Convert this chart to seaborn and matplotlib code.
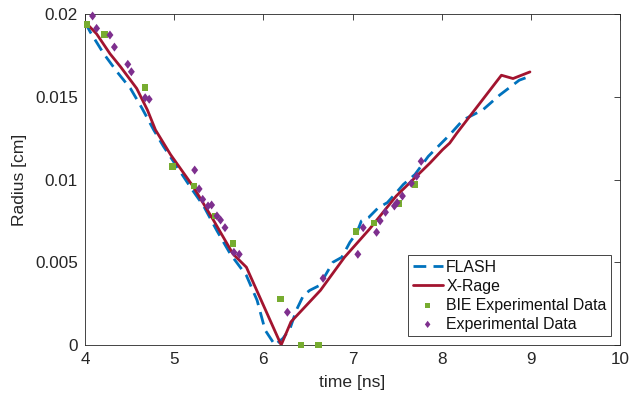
import matplotlib
matplotlib.use("Agg")
import matplotlib.pyplot as plt
import seaborn as sns
import numpy as np
from matplotlib.path import Path

# ---------------- data ----------------
flash_t = [4.0, 4.06, 4.21, 4.36, 4.51, 4.64, 4.77, 4.88, 5.20, 5.33, 5.48, 5.63,
           5.81, 5.93, 6.02, 6.13, 6.22, 6.30, 6.37, 6.45, 6.52, 6.63, 6.78, 6.88,
           6.97, 7.05, 7.10, 7.18, 7.29, 7.39, 7.49, 7.57, 7.70, 7.85, 8.09, 8.24,
           8.46, 8.65, 8.87, 8.97]
flash_r = [0.0195, 0.0189, 0.0176, 0.0165, 0.0155, 0.0143, 0.0130, 0.0120, 0.0094,
           0.0084, 0.0069, 0.0055, 0.0042, 0.0027, 0.0009, 0.0, 0.0004, 0.0010,
           0.0021, 0.0030, 0.0033, 0.0036, 0.0050, 0.0053, 0.0062, 0.0068, 0.0075,
           0.0077, 0.0083, 0.0086, 0.0092, 0.0097, 0.0103, 0.0114, 0.0127, 0.0136,
           0.0142, 0.0151, 0.0160, 0.0162]

xrage_t = [4.0, 4.04, 4.13, 4.28, 4.40, 4.58, 4.70, 4.79, 4.96, 5.21, 5.44, 5.66,
           5.81, 6.20, 6.31, 6.64, 6.91, 7.19, 7.49, 7.87, 8.01, 8.09, 8.17, 8.67,
           8.80, 8.99]
xrage_r = [0.0195, 0.0193, 0.0188, 0.0176, 0.0168, 0.0155, 0.0142, 0.0130, 0.0115,
           0.0096, 0.00755, 0.0055, 0.0047, 0.0, 0.0014, 0.0033, 0.0053, 0.0070,
           0.0090, 0.0110, 0.0118, 0.0122, 0.0128, 0.0163, 0.0161, 0.0165]

bie_t = [4.02, 4.22, 4.675, 4.98, 5.22, 5.46, 5.66, 6.19, 6.42, 6.62, 7.04, 7.24,
         7.52, 7.70]
bie_r = [0.01938, 0.01877, 0.01555, 0.01077, 0.0096, 0.0078, 0.00612, 0.00277,
         0.0, 0.0, 0.00685, 0.00737, 0.00856, 0.0097]

exp_t = [4.085, 4.13, 4.28, 4.33, 4.48, 4.52, 4.675, 4.72, 5.23, 5.28, 5.32, 5.38,
         5.42, 5.48, 5.52, 5.57, 5.67, 5.73, 6.27, 6.67, 7.06, 7.12, 7.27, 7.31,
         7.37, 7.47, 7.50, 7.56, 7.66, 7.72, 7.77]
exp_r = [0.01988, 0.01913, 0.01873, 0.0180, 0.01696, 0.01651, 0.01494, 0.01485,
         0.01057, 0.00943, 0.0088, 0.0084, 0.00846, 0.0078, 0.00755, 0.00709,
         0.0056, 0.00548, 0.00198, 0.00403, 0.00548, 0.00709, 0.00681, 0.0075,
         0.00802, 0.0084, 0.0086, 0.0090, 0.00977, 0.0102, 0.0111]

x_ticks = [4, 5, 6, 7, 8, 9, 10]
y_ticks = [0, 0.005, 0.01, 0.015, 0.02]
y_tick_labels = ["0", "0.005", "0.01", "0.015", "0.02"]

# ---------------- style ----------------
sns.set_style("white")
plt.rcParams["font.family"] = ["Liberation Sans", "DejaVu Sans"]
fs_tick = 12.3
fs_label = 12.6
fs_leg = 11.4
dark = "#262626"

fig = plt.figure(figsize=(6.29, 4.01), dpi=100)
ax = fig.add_axes([85 / 629, 56 / 401, 535 / 629, 331 / 401])

blue = "#0072BD"
red = "#A2142F"
green = "#77AC30"
purple = "#7E2F8E"

sns.lineplot(x=flash_t, y=flash_r, ax=ax, color=blue, lw=2.0,
             linestyle=(0, (4.6, 2.6)), estimator=None, sort=False, label="FLASH")
sns.lineplot(x=xrage_t, y=xrage_r, ax=ax, color=red, lw=2.0,
             estimator=None, sort=False, label="X-Rage")
sns.scatterplot(x=bie_t, y=bie_r, ax=ax, color=green, marker="s", s=22,
                edgecolor="none", label="BIE Experimental Data", zorder=3, clip_on=False)
diamond = Path([(0, 1), (0.77, 0), (0, -1), (-0.77, 0), (0, 1)],
               [Path.MOVETO, Path.LINETO, Path.LINETO, Path.LINETO, Path.CLOSEPOLY])
sns.scatterplot(x=exp_t, y=exp_r, ax=ax, color=purple, marker=diamond, s=42,
                edgecolor="none", label="Experimental Data", zorder=4, clip_on=False)

ax.set_xlim(4, 10)
ax.set_ylim(0, 0.02)
ax.set_xticks(x_ticks)
ax.set_xticklabels([str(v) for v in x_ticks])
ax.set_yticks(y_ticks)
ax.set_yticklabels(y_tick_labels)

ax.tick_params(direction="in", length=4, width=0.6, colors=dark, labelsize=fs_tick,
               top=True, right=True, pad=5)
for sp in ax.spines.values():
    sp.set_visible(True)
    sp.set_color(dark)
    sp.set_linewidth(0.6)

ax.set_xlabel("time [ns]", fontsize=fs_label, color=dark, labelpad=6)
ax.set_ylabel("Radius [cm]", fontsize=fs_label, color=dark, labelpad=6)

leg = ax.legend(loc="lower right", fontsize=fs_leg, frameon=True, fancybox=False,
                edgecolor=dark, framealpha=1, borderaxespad=0.55,
                handlelength=1.9, handletextpad=0.22, labelspacing=0.25,
                borderpad=0.3, markerscale=0.8)
leg.get_frame().set_linewidth(0.6)
for t in leg.get_texts():
    t.set_color("#111111")

fig.savefig("out.png", dpi=100)
